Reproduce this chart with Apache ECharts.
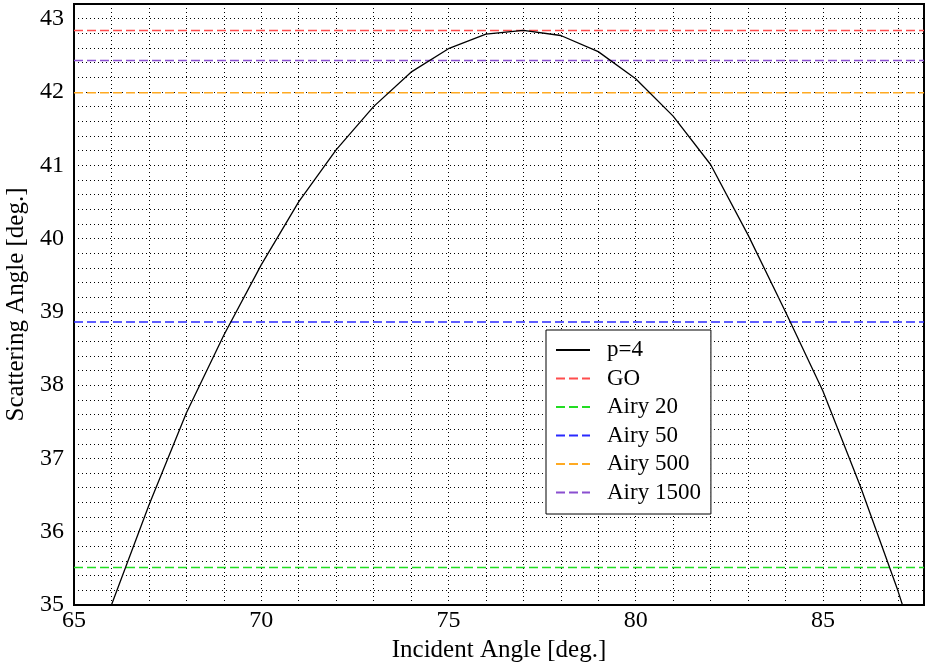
<!DOCTYPE html>
<html>
<head>
<meta charset="utf-8">
<script src="https://cdn.jsdelivr.net/npm/echarts@6/dist/echarts.min.js"></script>
<style>html,body{margin:0;padding:0;background:#fff}#c{width:925px;height:666px}</style>
</head>
<body>
<div id="c"></div>
<script>
// Incident angle (deg) and p=4 scattering angle (deg)
const incident = [66, 67, 68, 69, 70, 71, 72, 73, 74, 75, 76, 77, 78, 79, 80, 81, 82, 83, 84, 85, 86, 87, 88];
const scattering = [35.0, 36.36, 37.62, 38.68, 39.64, 40.5, 41.21, 41.80, 42.27, 42.59, 42.79, 42.84, 42.77, 42.55, 42.18, 41.67, 41.01, 40.05, 39.0, 37.92, 36.62, 35.2, 33.6];
// Horizontal reference levels
const levelNames = ['GO', 'Airy 20', 'Airy 50', 'Airy 500', 'Airy 1500'];
const levelValues = [42.84, 35.51, 38.86, 41.99, 42.43];
const levelColors = ['#ff4d4d', '#22dd22', '#2a2aff', '#ffaa22', '#8a4fd0'];
const xRange = [65, 87.7];
const yRange = [35, 43.2];

const FONT = 'Liberation Serif';
const series = [{
  name: 'p=4', type: 'line', symbol: 'none',
  data: incident.map((x, i) => [x, scattering[i]]),
  lineStyle: {color: '#000', width: 1.3}, itemStyle: {color: '#000', opacity: 0}, z: 5
}];
levelNames.forEach((n, i) => {
  series.push({
    name: n, type: 'line', symbol: 'none',
    data: [[xRange[0], levelValues[i]], [xRange[1], levelValues[i]]],
    lineStyle: {color: levelColors[i], width: 1.5, type: [9, 4]},
    itemStyle: {color: levelColors[i], opacity: 0}, z: 4
  });
});

const chart = echarts.init(document.getElementById('c'));
chart.setOption({
  animation: false,
  backgroundColor: '#fff',
  grid: {left: 74, right: 1, top: 4, bottom: 61, containLabel: false, outerBoundsMode: 'none',
    show: true, borderColor: '#000', borderWidth: 2, backgroundColor: 'transparent'},
  xAxis: {
    type: 'value', min: xRange[0], max: xRange[1], interval: 1,
    name: 'Incident Angle [deg.]', nameLocation: 'middle', nameGap: 27,
    nameTextStyle: {fontFamily: FONT, fontSize: 25, color: '#000'},
    axisLine: {show: true, lineStyle: {color: '#000', width: 2}},
    axisTick: {show: false},
    axisLabel: {fontFamily: FONT, fontSize: 24, color: '#000', margin: 4,
      formatter: v => (Math.abs(v % 5) < 1e-6 ? String(Math.round(v)) : '')},
    splitLine: {show: true, lineStyle: {color: '#000', width: 1, type: [1, 3]}}
  },
  yAxis: {
    type: 'value', min: yRange[0], max: yRange[1], interval: 0.2,
    name: 'Scattering Angle [deg.]', nameLocation: 'middle', nameGap: 44,
    nameTextStyle: {fontFamily: FONT, fontSize: 25, color: '#000'},
    axisLine: {show: true, lineStyle: {color: '#000', width: 2}},
    axisTick: {show: false},
    axisLabel: {fontFamily: FONT, fontSize: 24, color: '#000', margin: 10,
      formatter: v => (Math.abs(v - Math.round(v)) < 1e-6 ? String(Math.round(v)) : '')},
    splitLine: {show: true, lineStyle: {color: '#000', width: 1, type: [1, 3]}}
  },
  legend: {
    orient: 'vertical', left: 546, top: 330,
    padding: [8.5, 10, 10, 9], itemGap: 5.5, itemWidth: 34, itemHeight: 14,
    backgroundColor: '#fff', borderColor: '#000', borderWidth: 1,
    itemStyle: {opacity: 0},
    textStyle: {fontFamily: FONT, fontSize: 23, color: '#000', padding: [0, 0, 0, 12]},
    data: ['p=4'].concat(levelNames)
  },
  series: series
});
</script>
</body>
</html>
